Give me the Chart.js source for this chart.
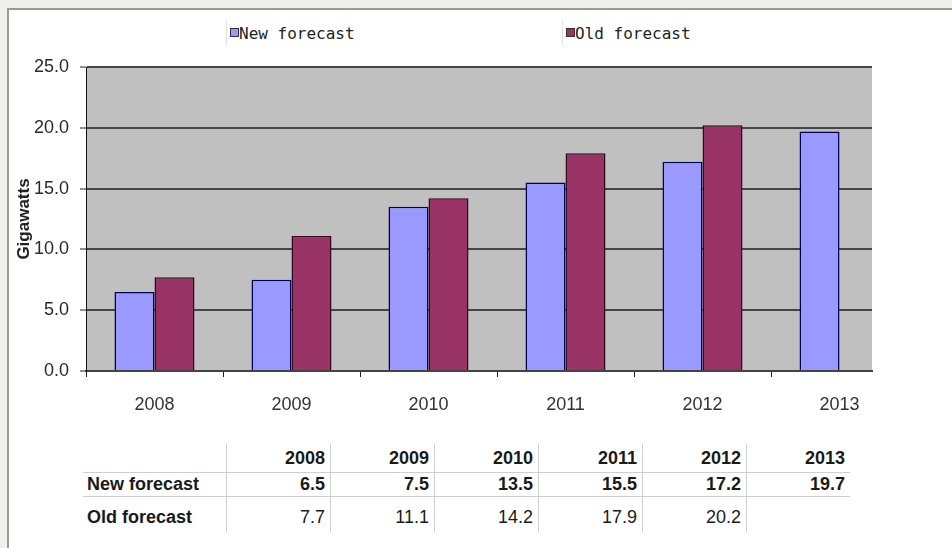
<!DOCTYPE html>
<html>
<head>
<meta charset="utf-8">
<script src="https://cdn.jsdelivr.net/npm/chart.js@4"></script>
<style>
  body { margin: 0; width: 952px; height: 548px; background: #efefeb; position: relative; overflow: hidden; font-family: "Liberation Sans", Arial, sans-serif; }
  #panel { position: absolute; left: 7px; top: 8px; width: 945px; height: 540px; background: #fff; border-left: 2px solid #9a9a9a; border-top: 2px solid #9a9a9a; }
  #wrap { position: absolute; left: 0; top: 0; width: 952px; height: 430px; }
  .leg-sep { position: absolute; top: 20px; width: 1px; height: 26px; background: #e2e2e2; }
  .leg-box { position: absolute; top: 28px; width: 7px; height: 7px; border: 1px solid #333; }
  .leg-txt { position: absolute; top: 24px; font: 16px "DejaVu Sans Mono", monospace; color: #222; white-space: nowrap; }
  #tbl { position: absolute; left: 83px; top: 444px; border-collapse: collapse; font-size: 18px; color: #1a1a1a; }
  #tbl td { padding: 0 5px 0 4px; text-align: right; white-space: nowrap; }
  #tbl td.lab { text-align: left; width: 134px; font-weight: bold; }
  #tbl td.yr { width: 94px; border-left: 1px solid #d0d0d0; }
  #tbl tr.head td { height: 28px; font-weight: bold; border-bottom: 1px solid #cfcfcf; }
  #tbl tr.r1 td { height: 23px; font-weight: bold; border-bottom: 1px solid #cfcfcf; }
  #tbl tr.r2 td { height: 30px; padding-top: 5px; vertical-align: middle; }
  #tbl tr.r2 td.lab { font-weight: bold; }
</style>
</head>
<body>
<div id="panel"></div>
<div id="legend"></div>
<div id="wrap"><canvas id="chart"></canvas></div>
<table id="tbl"></table>
<script>
// data
const years = ['2008', '2009', '2010', '2011', '2012', '2013'];
const seriesNames = ['New forecast', 'Old forecast'];
const newForecast = [6.5, 7.5, 13.5, 15.5, 17.2, 19.7];
const oldForecast = [7.7, 11.1, 14.2, 17.9, 20.2, null];
const yTicks = [0, 5, 10, 15, 20, 25];

const fillColors = ['#9999ff', '#993366'];
const edgeColors = ['#000050', '#2e0a1a'];

// plot background
const plotBg = {
  id: 'plotBg',
  beforeDraw(chart) {
    const a = chart.chartArea;
    const ctx = chart.ctx;
    ctx.save();
    ctx.fillStyle = '#c0c0c0';
    ctx.fillRect(a.left, a.top, a.right - a.left, a.bottom - a.top);
    ctx.restore();
  }
};

const ctx = document.getElementById('chart').getContext('2d');
const chart = new Chart(ctx, {
  type: 'bar',
  data: {
    datasets: [
      {
        label: seriesNames[0],
        data: newForecast.map((v, i) => ({ x: i, y: v })),
        backgroundColor: fillColors[0],
        borderColor: edgeColors[0],
        borderWidth: 1.5
      },
      {
        label: seriesNames[1],
        data: oldForecast.map((v, i) => ({ x: i, y: v })),
        backgroundColor: fillColors[1],
        borderColor: edgeColors[1],
        borderWidth: 1.5
      }
    ]
  },
  options: {
    responsive: true,
    maintainAspectRatio: false,
    animation: false,
    categoryPercentage: 80 / 137,
    barPercentage: 1,
    layout: { padding: { top: 67, right: 80, left: 0, bottom: 0 } },
    plugins: {
      legend: { display: false },
      tooltip: { enabled: false }
    },
    scales: {
      x: {
        type: 'linear',
        offset: false,
        min: -0.5,
        max: 5.237,
        afterBuildTicks: s => { s.ticks = years.map((y, i) => ({ value: i })); },
        afterFit: s => { s.height = 59; },
        ticks: {
          callback: v => years[v],
          font: { family: 'Liberation Sans', size: 18 },
          color: '#333',
          maxRotation: 0,
          autoSkip: false,
          padding: 17
        },
        grid: {
          offset: true,
          drawOnChartArea: false,
          drawTicks: true,
          tickLength: 6,
          tickColor: '#222',
          tickWidth: 1
        },
        border: { display: true, color: '#444', width: 2 }
      },
      y: {
        min: 0,
        max: 25,
        afterBuildTicks: s => { s.ticks = yTicks.map(v => ({ value: v })); },
        afterFit: s => { s.width = 86; },
        ticks: {
          callback: v => v.toFixed(1),
          font: { family: 'Liberation Sans', size: 18 },
          color: '#2a2a2a',
          padding: 11
        },
        grid: {
          color: '#454545',
          lineWidth: 2,
          tickLength: 6,
          tickColor: '#222',
          tickWidth: 1
        },
        border: { display: true, color: '#111', width: 1 },
        title: {
          display: true,
          text: 'Gigawatts',
          font: { family: 'Liberation Sans', size: 17, weight: 'bold' },
          color: '#222',
          padding: { top: 14, bottom: 0 }
        }
      }
    }
  },
  plugins: [plotBg]
});

// legend
const legendX = [226, 562];
document.getElementById('legend').innerHTML = seriesNames.map((name, i) => `
  <div class="leg-sep" style="left:${legendX[i]}px"></div>
  <div class="leg-box" style="left:${legendX[i] + 4}px;background:${fillColors[i]}"></div>
  <div class="leg-txt" style="left:${legendX[i] + 13}px">${name}</div>
`).join('');

// data table
const fmt = v => (v === null ? '' : v.toFixed(1));
document.getElementById('tbl').innerHTML =
  `<tr class="head"><td class="lab"></td>${years.map(y => `<td class="yr">${y}</td>`).join('')}</tr>` +
  `<tr class="r1"><td class="lab">${seriesNames[0]}</td>${newForecast.map(v => `<td class="yr">${fmt(v)}</td>`).join('')}</tr>` +
  `<tr class="r2"><td class="lab">${seriesNames[1]}</td>${oldForecast.map(v => `<td class="yr">${fmt(v)}</td>`).join('')}</tr>`;
</script>
</body>
</html>
